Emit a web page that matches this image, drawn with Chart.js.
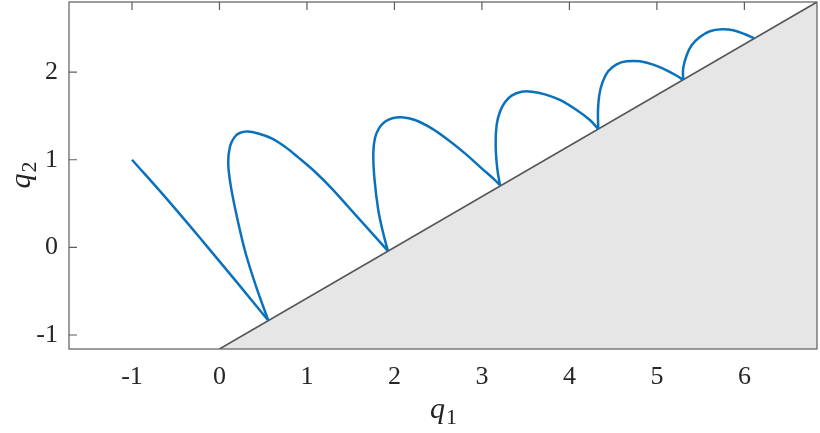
<!DOCTYPE html>
<html>
<head>
<meta charset="utf-8">
<script src="https://cdn.jsdelivr.net/npm/chart.js@4/dist/chart.umd.min.js"></script>
<style>
  html, body { margin: 0; padding: 0; background: #fff; }
  #wrap { width: 820px; height: 433px; position: relative; }
</style>
</head>
<body>
<div id="wrap"><canvas id="chart"></canvas></div>
<script>
/* ── data ────────────────────────────────────────────── */
const xTicks = [-1, 0, 1, 2, 3, 4, 5, 6];
const yTicks = [-1, 0, 1, 2];
const xRange = [-1.72, 6.83];
const yRange = [-1.16, 2.80];

// inclined wall (shaded region below it)
const wall = [[0, -1.16], [6.83, 2.80]];

// trajectory, one flight per array (impacts are cusps)
const arc0 = [[-1, 1], [-0.6, 0.55], [-0.2, 0.08], [0.2, -0.40], [0.558, -0.835]];
const arc1 = [[0.558, -0.835], [0.42, -0.45], [0.30, -0.07], [0.208, 0.31], [0.131, 0.69], [0.10, 0.96],
              [0.12, 1.15], [0.17, 1.255], [0.23, 1.305], [0.32, 1.322], [0.443, 1.30], [0.597, 1.244],
              [0.749, 1.148], [0.90, 1.027], [1.091, 0.863], [1.282, 0.674], [1.472, 0.463],
              [1.663, 0.25], [1.925, -0.04]];
const arc2 = [[1.925, -0.04], [1.872, 0.16], [1.815, 0.426], [1.769, 0.806], [1.758, 1.073], [1.777, 1.244],
              [1.823, 1.358], [1.891, 1.434], [1.986, 1.476], [2.082, 1.484], [2.234, 1.453], [2.425, 1.358],
              [2.615, 1.225], [2.806, 1.073], [2.997, 0.902], [3.149, 0.768], [3.206, 0.711]];
const arc3 = [[3.206, 0.711], [3.175, 0.90], [3.157, 1.168], [3.168, 1.396], [3.206, 1.548], [3.263, 1.655],
              [3.339, 1.731], [3.454, 1.776], [3.568, 1.776], [3.72, 1.746], [3.891, 1.682], [4.082, 1.567],
              [4.234, 1.453], [4.33, 1.35]];
const arc4 = [[4.33, 1.35], [4.326, 1.545], [4.341, 1.735], [4.379, 1.887], [4.443, 2.009], [4.539, 2.089],
              [4.654, 2.123], [4.806, 2.123], [4.958, 2.085], [5.111, 2.02], [5.232, 1.955], [5.30, 1.91]];
const arc5 = [[5.30, 1.91], [5.30, 2.04], [5.339, 2.19], [5.397, 2.306], [5.491, 2.40], [5.606, 2.466],
              [5.739, 2.489], [5.872, 2.477], [6.006, 2.432], [6.11, 2.385]];

const BLUE = '#0a72bd';
const FONT = "'Liberation Serif', 'DejaVu Serif', serif";

const pts = a => a.map(([x, y]) => ({ x, y }));
const arcSet = a => ({
  data: pts(a), showLine: true, borderColor: BLUE, borderWidth: 2.5,
  pointRadius: 0, tension: 0.35, fill: false, order: 1,
});

// italic letter with upright subscript
function subLabel(ctx, base, sub, x, y, size) {
  ctx.font = `italic ${size}px ${FONT}`;
  const w1 = ctx.measureText(base).width;
  ctx.font = `${Math.round(size * 0.72)}px ${FONT}`;
  const w2 = ctx.measureText(sub).width;
  const x0 = x - (w1 + w2) / 2;
  ctx.textBaseline = 'alphabetic';
  ctx.textAlign = 'left';
  ctx.font = `italic ${size}px ${FONT}`;
  ctx.fillText(base, x0, y);
  ctx.font = `${Math.round(size * 0.72)}px ${FONT}`;
  ctx.fillText(sub, x0 + w1 + 1, y + size * 0.2);
}

const frame = {
  id: 'frame',
  afterDatasetsDraw(chart) {
    const { ctx, chartArea: a, scales: { x, y } } = chart;
    ctx.save();
    ctx.strokeStyle = '#5c5c5c';
    ctx.lineWidth = 1.2;
    ctx.strokeRect(a.left, a.top, a.right - a.left, a.bottom - a.top);
    ctx.beginPath();
    xTicks.forEach(v => { const p = x.getPixelForValue(v); ctx.moveTo(p, a.top); ctx.lineTo(p, a.top + 8); });
    yTicks.forEach(v => { const p = y.getPixelForValue(v); ctx.moveTo(a.left, p); ctx.lineTo(a.left + 8, p); });
    ctx.stroke();

    ctx.fillStyle = '#222';
    subLabel(ctx, 'q', '1', (a.left + a.right) / 2, 418, 30);
    ctx.translate(30, (a.top + a.bottom) / 2);
    ctx.rotate(-Math.PI / 2);
    subLabel(ctx, 'q', '2', 0, 0, 30);
    ctx.restore();
  }
};

new Chart(document.getElementById('chart'), {
  type: 'scatter',
  data: {
    datasets: [
      { data: pts(wall), showLine: true, borderColor: '#555', borderWidth: 1.6, pointRadius: 0,
        backgroundColor: '#e6e6e6', fill: 'start', order: 2 },
      arcSet(arc0), arcSet(arc1), arcSet(arc2), arcSet(arc3), arcSet(arc4), arcSet(arc5),
    ],
  },
  options: {
    responsive: true, maintainAspectRatio: false, animation: false,
    layout: { padding: { top: 2, right: 3, left: 0, bottom: 0 } },
    plugins: { legend: { display: false }, tooltip: { enabled: false } },
    scales: {
      x: {
        type: 'linear', min: xRange[0], max: xRange[1],
        grid: { display: false, drawTicks: false }, border: { display: false },
        afterBuildTicks: s => { s.ticks = xTicks.map(v => ({ value: v })); },
        afterFit: s => { s.height = 84; s.paddingLeft = 0; s.paddingRight = 0; },
        ticks: { autoSkip: false, maxRotation: 0, padding: 13, color: '#262626', font: { family: FONT, size: 26 } },
      },
      y: {
        type: 'linear', min: yRange[0], max: yRange[1],
        grid: { display: false, drawTicks: false }, border: { display: false },
        afterBuildTicks: s => { s.ticks = yTicks.map(v => ({ value: v })); },
        afterFit: s => { s.width = 69; s.paddingTop = 0; s.paddingBottom = 0; },
        ticks: { autoSkip: false, padding: 11, color: '#262626', font: { family: FONT, size: 26 } },
      },
    },
  },
  plugins: [frame],
});
</script>
</body>
</html>
